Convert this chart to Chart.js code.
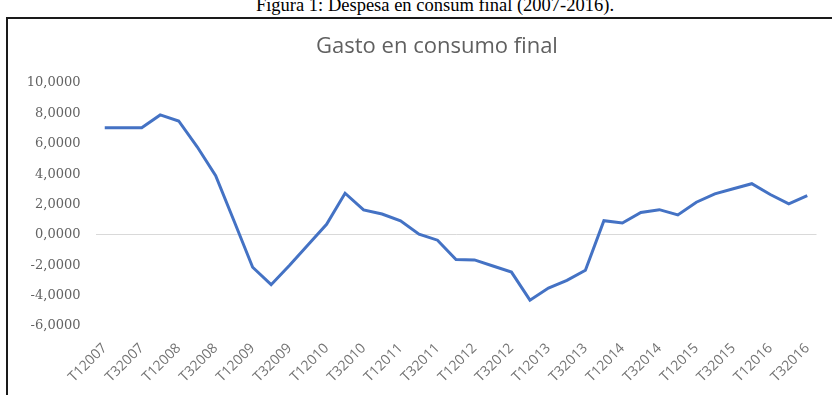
<!DOCTYPE html>
<html>
<head>
<meta charset="utf-8">
<script src="https://cdn.jsdelivr.net/npm/chart.js@4/dist/chart.umd.min.js"></script>
<style>
  html, body { margin: 0; padding: 0; background: #fff; overflow: hidden; }
  body { width: 832px; height: 395px; position: relative; }
  #caption {
    position: absolute; left: 0; width: 870px; top: -5px;
    text-align: center; font-family: "Liberation Serif", serif; font-size: 18.5px; color: #000;
  }
  #box {
    position: absolute; left: 6px; top: 17px; width: 900px; height: 400px;
    border-left: 2px solid #1a1a1a; border-top: 2px solid #1a1a1a;
  }
  #titulo {
    position: absolute; left: 237px; width: 400px; top: 31px; line-height: 26px;
    text-align: center; font-family: "Open Sans", sans-serif; font-size: 22px; color: #606060;
  }
  #grafico { position: absolute; left: 9px; top: 20px; }
</style>
</head>
<body>
<div id="caption">Figura 1: Despesa en consum final (2007-2016).</div>
<div id="box"></div>
<canvas id="grafico" width="856" height="375"></canvas>
<div id="titulo">Gasto en consumo final</div>
<script>
// Trimestres T1 2007 .. T3 2016
const trimestres = [
  'T12007', 'T22007', 'T32007', 'T42007',
  'T12008', 'T22008', 'T32008', 'T42008',
  'T12009', 'T22009', 'T32009', 'T42009',
  'T12010', 'T22010', 'T32010', 'T42010',
  'T12011', 'T22011', 'T32011', 'T42011',
  'T12012', 'T22012', 'T32012', 'T42012',
  'T12013', 'T22013', 'T32013', 'T42013',
  'T12014', 'T22014', 'T32014', 'T42014',
  'T12015', 'T22015', 'T32015', 'T42015',
  'T12016', 'T22016', 'T32016'
];

// Variación del gasto en consumo final (%)
const gastoConsumo = [
  7.06, 7.06, 7.06, 7.90, 7.50, 5.80, 3.90, 0.90,
  -2.13, -3.28, -2.00, -0.65, 0.70, 2.74, 1.64, 1.37,
  0.93, 0.05, -0.35, -1.62, -1.65, -2.05, -2.45, -4.30,
  -3.50, -3.00, -2.33, 0.93, 0.78, 1.48, 1.66, 1.31,
  2.15, 2.70, 3.04, 3.37, 2.66, 2.04, 2.59
];

const ejeY = { min: -6, max: 10, paso: 2 };

const ctx = document.getElementById('grafico').getContext('2d');
new Chart(ctx, {
  type: 'line',
  data: {
    labels: trimestres,
    datasets: [{
      label: 'Gasto en consumo final',
      data: gastoConsumo,
      borderColor: '#4472c4',
      borderWidth: 3,
      pointRadius: 0,
      tension: 0,
      fill: false
    }]
  },
  options: {
    responsive: false,
    animation: false,
    layout: { padding: { left: 6.5, right: 48.5, top: 63, bottom: 0 } },
    plugins: {
      legend: { display: false },
      tooltip: { enabled: false },
      title: { display: false }
    },
    scales: {
      x: {
        offset: true,
        grid: { display: false, offset: true },
        border: { display: false },
        ticks: {
          autoSkip: false,
          minRotation: 45,
          maxRotation: 45,
          padding: 6,
          color: '#737373',
          font: { family: 'Open Sans', size: 14 },
          // sólo se rotula un trimestre de cada dos
          callback: (v, i) => (i % 2 === 0 ? trimestres[i] : '')
        },
        afterFit: s => { s.height = 69; }
      },
      y: {
        min: ejeY.min,
        max: ejeY.max,
        border: { display: false },
        grid: {
          drawTicks: false,
          color: c => (c.tick && c.tick.value === 0 ? '#d9d9d9' : 'rgba(0,0,0,0)')
        },
        ticks: {
          stepSize: ejeY.paso,
          padding: 15,
          color: '#636363',
          font: { family: 'DejaVu Serif', size: 13 },
          callback: v => v.toFixed(4).replace('.', ',')
        },
        afterFit: s => { s.width = 80; }
      }
    }
  }
});
</script>
</body>
</html>
